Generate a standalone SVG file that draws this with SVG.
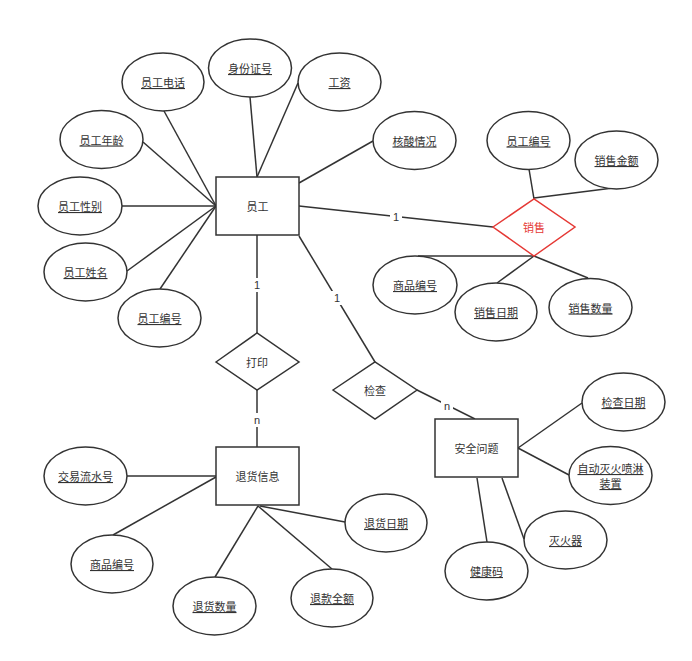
<svg xmlns="http://www.w3.org/2000/svg" width="692" height="661" viewBox="0 0 692 661">
<style>
.shape{fill:#fff;stroke:#333;stroke-width:1.5}
.red{fill:#fff;stroke:#e53935;stroke-width:1.5}
.edge{stroke:#333;stroke-width:1.5;fill:none}
text{font-family:"Noto Sans CJK SC","Liberation Sans",sans-serif;font-size:11px;fill:#333;text-anchor:middle;dominant-baseline:central}
.attr{text-decoration:underline}
.lbl{font-family:"Liberation Sans",sans-serif;font-size:11px}
.redt{fill:#e53935}
</style>
<rect width="692" height="661" fill="#fff"/>
<g id="connectors">
<line class="edge" x1="164" y1="111" x2="216" y2="206"/>
<line class="edge" x1="143" y1="142" x2="216" y2="206"/>
<line class="edge" x1="122" y1="206" x2="216" y2="206"/>
<line class="edge" x1="127" y1="271" x2="216" y2="206"/>
<line class="edge" x1="160" y1="289" x2="216" y2="206"/>
<line class="edge" x1="250" y1="97" x2="257" y2="177"/>
<line class="edge" x1="298" y1="83" x2="257" y2="177"/>
<line class="edge" x1="373" y1="141" x2="299" y2="183"/>
<line class="edge" x1="299" y1="206" x2="493" y2="227"/>
<line class="edge" x1="529" y1="169" x2="534" y2="199"/>
<line class="edge" x1="613" y1="188" x2="534" y2="198"/>
<line class="edge" x1="418" y1="256" x2="534" y2="256"/>
<line class="edge" x1="497" y1="283" x2="534" y2="256"/>
<line class="edge" x1="588" y1="278" x2="534" y2="256"/>
<line class="edge" x1="257" y1="235" x2="257" y2="333"/>
<line class="edge" x1="257" y1="390" x2="257" y2="447"/>
<line class="edge" x1="299" y1="236" x2="375" y2="362"/>
<line class="edge" x1="417" y1="390" x2="475" y2="419"/>
<line class="edge" x1="127" y1="476" x2="216" y2="476"/>
<line class="edge" x1="113" y1="535" x2="216" y2="477"/>
<line class="edge" x1="215" y1="577" x2="258" y2="506"/>
<line class="edge" x1="332" y1="569" x2="258" y2="506"/>
<line class="edge" x1="260" y1="506" x2="345" y2="522"/>
<line class="edge" x1="518" y1="448" x2="582" y2="403"/>
<line class="edge" x1="518" y1="448" x2="569" y2="475"/>
<line class="edge" x1="502" y1="478" x2="524" y2="539"/>
<line class="edge" x1="477" y1="478" x2="487" y2="542"/>
<rect x="390" y="210" width="12" height="14" fill="#fff"/>
<text class="lbl" x="396" y="217">1</text>
<rect x="251" y="278" width="12" height="14" fill="#fff"/>
<text class="lbl" x="257" y="285">1</text>
<rect x="251" y="413" width="12" height="14" fill="#fff"/>
<text class="lbl" x="257" y="420">n</text>
<rect x="331" y="291" width="12" height="14" fill="#fff"/>
<text class="lbl" x="337" y="298">1</text>
<rect x="441" y="399" width="12" height="14" fill="#fff"/>
<text class="lbl" x="447" y="406">n</text>
</g>
<g id="员工"><rect class="shape" x="216" y="177" width="83" height="58"/><text x="257.5" y="206">员工</text></g>
<g id="退货信息"><rect class="shape" x="216" y="447" width="83" height="58"/><text x="257.5" y="476">退货信息</text></g>
<g id="安全问题"><rect class="shape" x="435" y="419" width="83" height="58"/><text x="476.5" y="448">安全问题</text></g>
<g id="销售"><polygon class="red" points="493,227 534,199 575,227 534,256"/><text class="redt" x="534" y="227">销售</text></g>
<g id="打印"><polygon class="shape" points="216,362 257,333 299,362 257,390"/><text x="257" y="362">打印</text></g>
<g id="检查"><polygon class="shape" points="333,390 375,362 417,390 375,419"/><text x="375" y="390">检查</text></g>
<g id="员工电话"><ellipse class="shape" cx="163" cy="82" rx="41" ry="29"/><text class="attr" x="163" y="82">员工电话</text></g>
<g id="身份证号"><ellipse class="shape" cx="250" cy="68" rx="41.5" ry="29"/><text class="attr" x="250" y="68">身份证号</text></g>
<g id="工资"><ellipse class="shape" cx="339.5" cy="82" rx="41.5" ry="29"/><text class="attr" x="339.5" y="82">工资</text></g>
<g id="员工年龄"><ellipse class="shape" cx="101.5" cy="139.5" rx="41.5" ry="29"/><text class="attr" x="101.5" y="139.5">员工年龄</text></g>
<g id="员工性别"><ellipse class="shape" cx="80" cy="206" rx="42" ry="29"/><text class="attr" x="80" y="206">员工性别</text></g>
<g id="员工姓名"><ellipse class="shape" cx="85.5" cy="272" rx="41.5" ry="29"/><text class="attr" x="85.5" y="272">员工姓名</text></g>
<g id="员工编号1"><ellipse class="shape" cx="159.5" cy="318" rx="41.5" ry="29"/><text class="attr" x="159.5" y="318">员工编号</text></g>
<g id="核酸情况"><ellipse class="shape" cx="414.5" cy="140.5" rx="41.5" ry="29"/><text class="attr" x="414.5" y="140.5">核酸情况</text></g>
<g id="员工编号2"><ellipse class="shape" cx="528.5" cy="140.5" rx="41.5" ry="29"/><text class="attr" x="528.5" y="140.5">员工编号</text></g>
<g id="销售金额"><ellipse class="shape" cx="616.5" cy="160" rx="41.5" ry="29"/><text class="attr" x="616.5" y="160">销售金额</text></g>
<g id="商品编号1"><ellipse class="shape" cx="415" cy="285" rx="42" ry="29"/><text class="attr" x="415" y="285">商品编号</text></g>
<g id="销售日期"><ellipse class="shape" cx="496" cy="312" rx="41" ry="29"/><text class="attr" x="496" y="312">销售日期</text></g>
<g id="销售数量"><ellipse class="shape" cx="590.5" cy="307.5" rx="41.5" ry="29"/><text class="attr" x="590.5" y="307.5">销售数量</text></g>
<g id="交易流水号"><ellipse class="shape" cx="85.5" cy="476" rx="41.5" ry="29"/><text class="attr" x="85.5" y="476">交易流水号</text></g>
<g id="商品编号2"><ellipse class="shape" cx="112" cy="564" rx="41" ry="29"/><text class="attr" x="112" y="564">商品编号</text></g>
<g id="退货数量"><ellipse class="shape" cx="214.5" cy="606" rx="41.5" ry="29"/><text class="attr" x="214.5" y="606">退货数量</text></g>
<g id="退款全额"><ellipse class="shape" cx="332" cy="598" rx="41" ry="29"/><text class="attr" x="332" y="598">退款全额</text></g>
<g id="退货日期"><ellipse class="shape" cx="386" cy="523" rx="41" ry="29"/><text class="attr" x="386" y="523">退货日期</text></g>
<g id="检查日期"><ellipse class="shape" cx="623.5" cy="402" rx="41.5" ry="29"/><text class="attr" x="623.5" y="402">检查日期</text></g>
<g id="自动灭火喷淋装置"><ellipse class="shape" cx="610.5" cy="475.5" rx="41.5" ry="29"/><text class="attr" x="610.5" y="468">自动灭火喷淋</text><text class="attr" x="610.5" y="483">装置</text></g>
<g id="灭火器"><ellipse class="shape" cx="565.5" cy="540" rx="41.5" ry="29"/><text class="attr" x="565.5" y="540">灭火器</text></g>
<g id="健康码"><ellipse class="shape" cx="486.5" cy="571" rx="41.5" ry="29"/><text class="attr" x="486.5" y="571">健康码</text></g>
</svg>
